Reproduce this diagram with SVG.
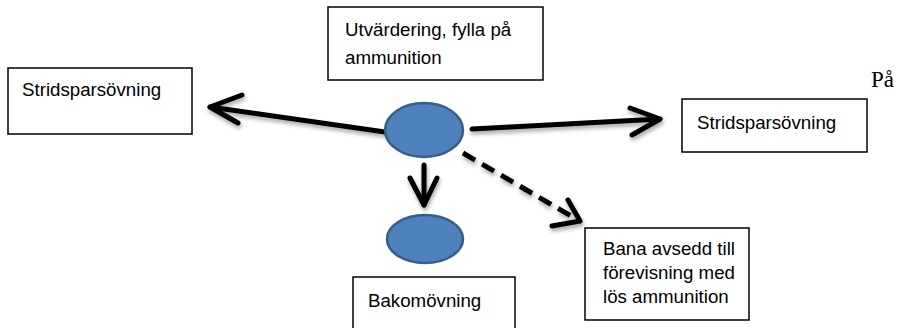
<svg xmlns="http://www.w3.org/2000/svg" width="902" height="328" viewBox="0 0 902 328">
<defs>
<filter id="sh" x="-20%" y="-20%" width="140%" height="160%">
<feGaussianBlur in="SourceAlpha" stdDeviation="2"/>
<feOffset dx="1" dy="3"/>
<feComponentTransfer><feFuncA type="linear" slope="0.35"/></feComponentTransfer>
<feMerge><feMergeNode/><feMergeNode in="SourceGraphic"/></feMerge>
</filter>
</defs>
<style>
.box{fill:#fff;stroke:#000;stroke-width:1.5}
.t{font-family:"Liberation Sans",Arial,sans-serif;font-size:18.7px;fill:#000}
.ell{fill:#4f81bd;stroke:#385d8a;stroke-width:2.5}
.c{fill:none;stroke:#000;stroke-width:5;stroke-linecap:round;stroke-linejoin:round}
.d{stroke-dasharray:14 8;stroke-linecap:butt}
</style>
<rect width="902" height="328" fill="#fff"/>
<g id="connectors" filter="url(#sh)">
<path class="c" d="M385 132 L210 107"/>
<path class="c" d="M242 95 L210 107 L238 123"/>
<path class="c" d="M472 129 L660 119"/>
<path class="c" d="M630 108 L660 119 L632 135"/>
<path class="c" d="M424 165 L424 205"/>
<path class="c" d="M410 178 L424 205 L437 178"/>
<path class="c d" d="M463 153 L578 220"/>
<path class="c" d="M568 200 L580 221 L552 226"/>
</g>
<g id="node-top">
<rect class="box" x="328" y="7" width="215" height="73"/>
<text class="t" x="345" y="36">Utvärdering, fylla på</text>
<text class="t" x="345" y="64">ammunition</text>
</g>
<g id="node-left">
<rect class="box" x="8" y="68" width="184" height="66"/>
<text class="t" x="22" y="96">Stridsparsövning</text>
</g>
<g id="node-right">
<rect class="box" x="682" y="99" width="185" height="53"/>
<text class="t" x="697" y="129">Stridsparsövning</text>
</g>
<g id="label-pa">
<text x="871" y="87" style="font-family:'Liberation Serif','Times New Roman',serif;font-size:23px">På</text>
</g>
<g id="node-center">
<ellipse class="ell" cx="424" cy="130" rx="39" ry="27"/>
</g>
<g id="node-bottom-ellipse">
<ellipse class="ell" cx="425" cy="239" rx="38" ry="24"/>
</g>
<g id="node-bakom">
<rect class="box" x="353" y="277" width="162" height="60"/>
<text class="t" x="368" y="307">Bakomövning</text>
</g>
<g id="node-bana">
<rect class="box" x="585" y="228" width="164" height="92"/>
<text class="t" x="603" y="255">Bana avsedd till</text>
<text class="t" x="603" y="279">förevisning med</text>
<text class="t" x="603" y="303">lös ammunition</text>
</g>
</svg>
